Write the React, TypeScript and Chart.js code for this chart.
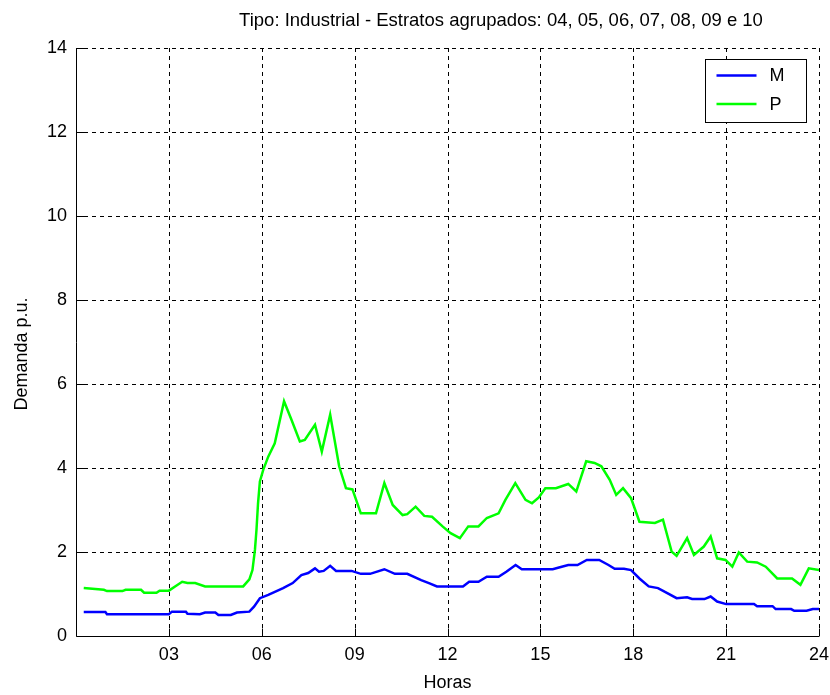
import { useEffect, useRef } from "react";
import { Chart, registerables } from "chart.js";

Chart.register(...registerables);

const chartTitle = "Tipo: Industrial - Estratos agrupados: 04, 05, 06, 07, 08, 09 e 10";
const xAxisTitle = "Horas";
const yAxisTitle = "Demanda p.u.";
const xTicks = [3, 6, 9, 12, 15, 18, 21, 24];
const xTickLabels = ["03", "06", "09", "12", "15", "18", "21", "24"];
const yTicks = [0, 2, 4, 6, 8, 10, 12, 14];
const seriesNames = ["M", "P"];
const seriesColors = ["#0000ff", "#00ff00"];

const hoursM = [
  0.25, 0.95, 1.0, 3.0, 3.1, 3.55, 3.6, 4.0, 4.17, 4.5, 4.6, 5.0, 5.2, 5.6, 5.75, 5.94,
  6.21, 6.69, 7.0, 7.28, 7.5, 7.72, 7.85, 8.0, 8.21, 8.4, 8.9, 9.2, 9.5, 9.96, 10.3,
  10.7, 11.15, 11.4, 11.66, 12.5, 12.7, 13.0, 13.27, 13.65, 13.9, 14.2, 14.4, 15.4,
  15.6, 15.9, 16.2, 16.5, 16.9, 17.2, 17.4, 17.7, 17.93, 18.2, 18.5, 18.8, 19.1, 19.4,
  19.74, 19.9, 20.3, 20.5, 20.71, 21.0, 21.9, 22.0, 22.5, 22.6, 23.1, 23.2, 23.6, 23.8, 24.0,
];
const valuesM = [
  0.57, 0.57, 0.52, 0.52, 0.58, 0.58, 0.53, 0.52, 0.56, 0.56, 0.5, 0.5, 0.56, 0.58, 0.7, 0.9,
  0.98, 1.14, 1.26, 1.45, 1.5, 1.61, 1.53, 1.55, 1.67, 1.55, 1.55, 1.48, 1.48, 1.59, 1.48,
  1.48, 1.33, 1.26, 1.18, 1.18, 1.29, 1.29, 1.41, 1.41, 1.53, 1.69, 1.59, 1.59,
  1.63, 1.69, 1.69, 1.81, 1.81, 1.69, 1.6, 1.6, 1.57, 1.37, 1.18, 1.14, 1.02, 0.9,
  0.92, 0.88, 0.88, 0.94, 0.82, 0.76, 0.76, 0.71, 0.71, 0.64, 0.64, 0.6, 0.6, 0.64, 0.64,
];

const hoursP = [
  0.25, 0.9, 1.0, 1.5, 1.6, 2.1, 2.2, 2.6, 2.7, 3.0, 3.2, 3.43, 3.6, 3.85, 4.17, 5.4,
  5.6, 5.7, 5.78, 5.83, 5.88, 5.94, 6.05, 6.21, 6.42, 6.72, 6.96, 7.23, 7.39, 7.72, 7.94,
  8.21, 8.5, 8.72, 8.93, 9.2, 9.69, 9.96, 10.23, 10.55, 10.7, 10.97, 11.25, 11.5, 11.84,
  12.1, 12.4, 12.67, 13.0, 13.27, 13.65, 13.87, 14.19, 14.52, 14.73, 14.95, 15.16, 15.5,
  15.9, 16.16, 16.48, 16.75, 16.97, 17.24, 17.45, 17.67, 17.93, 18.2, 18.7, 18.96, 19.24,
  19.4, 19.74, 19.96, 20.28, 20.5, 20.71, 20.98, 21.2, 21.41, 21.68, 22.0, 22.28, 22.65,
  23.13, 23.4, 23.67, 24.0,
];
const valuesP = [
  1.14, 1.1, 1.07, 1.07, 1.1, 1.1, 1.03, 1.03, 1.08, 1.08, 1.18, 1.29, 1.26, 1.26, 1.18, 1.18,
  1.35, 1.57, 2.05, 2.53, 3.16, 3.68, 3.96, 4.27, 4.59, 5.59, 5.15, 4.63, 4.67, 5.03, 4.39,
  5.27, 4.04, 3.52, 3.49, 2.92, 2.92, 3.64, 3.12, 2.88, 2.9, 3.08, 2.86, 2.84, 2.61,
  2.45, 2.33, 2.61, 2.61, 2.81, 2.92, 3.24, 3.64, 3.24, 3.16, 3.3, 3.52, 3.52,
  3.62, 3.44, 4.16, 4.12, 4.04, 3.72, 3.36, 3.52, 3.28, 2.72, 2.69, 2.77, 2.01,
  1.91, 2.33, 1.93, 2.13, 2.37, 1.85, 1.81, 1.65, 1.99, 1.77, 1.75, 1.65, 1.37,
  1.37, 1.22, 1.61, 1.57,
];

const FONT = "'Liberation Sans', Arial, Helvetica, sans-serif";

const decorPlugin = {
  id: "matlabDecor",
  beforeDatasetsDraw(chart: any) {
    const { ctx, chartArea } = chart;
    const xs = chart.scales.x;
    const ys = chart.scales.y;
    const { left, right, top, bottom } = chartArea;
    ctx.save();
    ctx.strokeStyle = "#000";
    ctx.lineWidth = 1;
    ctx.setLineDash([4, 4]);
    for (const t of xTicks) {
      const px = Math.round(xs.getPixelForValue(t)) + 0.5;
      ctx.beginPath();
      ctx.moveTo(px, bottom);
      ctx.lineTo(px, top);
      ctx.stroke();
    }
    for (const t of yTicks) {
      if (t === 0) continue;
      const py = Math.round(ys.getPixelForValue(t)) + 0.5;
      ctx.beginPath();
      ctx.moveTo(left, py);
      ctx.lineTo(right, py);
      ctx.stroke();
    }
    ctx.setLineDash([]);
    const lx = Math.round(left) + 0.5;
    const by = Math.round(bottom) + 0.5;
    ctx.beginPath();
    ctx.moveTo(lx, top);
    ctx.lineTo(lx, by);
    ctx.lineTo(right, by);
    ctx.stroke();
    for (const t of xTicks) {
      const px = Math.round(xs.getPixelForValue(t)) + 0.5;
      ctx.beginPath();
      ctx.moveTo(px, by);
      ctx.lineTo(px, by - 8);
      ctx.stroke();
    }
    for (const t of yTicks) {
      const py = Math.round(ys.getPixelForValue(t)) + 0.5;
      ctx.beginPath();
      ctx.moveTo(lx, py);
      ctx.lineTo(lx + 8, py);
      ctx.stroke();
    }
    ctx.restore();
  },
  afterDatasetsDraw(chart: any) {
    const { ctx, chartArea } = chart;
    const { left, right, top, bottom } = chartArea;
    ctx.save();
    const bx = right - 113.5;
    const bw = 101;
    const byTop = top + 11.5;
    const bh = 63;
    ctx.fillStyle = "#fff";
    ctx.fillRect(bx, byTop, bw, bh);
    ctx.strokeStyle = "#000";
    ctx.lineWidth = 1;
    ctx.strokeRect(bx, byTop, bw, bh);
    seriesNames.forEach((name, i) => {
      const cy = byTop + 16 + i * 28.5;
      ctx.strokeStyle = seriesColors[i];
      ctx.lineWidth = 2.5;
      ctx.beginPath();
      ctx.moveTo(bx + 11, cy);
      ctx.lineTo(bx + 51, cy);
      ctx.stroke();
      ctx.fillStyle = "#000";
      ctx.font = `18px ${FONT}`;
      ctx.textAlign = "left";
      ctx.textBaseline = "middle";
      ctx.fillText(name, bx + 64, cy + 1);
    });
    ctx.fillStyle = "#000";
    ctx.textAlign = "center";
    ctx.textBaseline = "middle";
    ctx.font = `18.5px ${FONT}`;
    ctx.fillText(chartTitle, 501, 21);
    ctx.font = `18px ${FONT}`;
    ctx.fillText(xAxisTitle, (left + right) / 2, 683);
    ctx.translate(22, 354);
    ctx.rotate(-Math.PI / 2);
    ctx.fillText(yAxisTitle, 0, 0);
    ctx.restore();
  },
};

export default function App() {
  const canvasRef = useRef<HTMLCanvasElement | null>(null);

  useEffect(() => {
    if (!canvasRef.current) return;
    const chart = new Chart(canvasRef.current, {
      type: "line",
      data: {
        datasets: [
          {
            label: seriesNames[0],
            data: hoursM.map((h, i) => ({ x: h, y: valuesM[i] })),
            borderColor: seriesColors[0],
            backgroundColor: seriesColors[0],
            borderWidth: 2.5,
            pointRadius: 0,
            tension: 0,
          },
          {
            label: seriesNames[1],
            data: hoursP.map((h, i) => ({ x: h, y: valuesP[i] })),
            borderColor: seriesColors[1],
            backgroundColor: seriesColors[1],
            borderWidth: 2.5,
            pointRadius: 0,
            tension: 0,
          },
        ],
      },
      options: {
        animation: false,
        responsive: false,
        devicePixelRatio: 1,
        layout: { padding: { top: 48, right: 11, bottom: 0, left: 0 } },
        plugins: {
          legend: { display: false },
          title: { display: false },
          tooltip: { enabled: false },
        },
        scales: {
          x: {
            type: "linear",
            min: 0,
            max: 24,
            grid: { display: false },
            border: { display: false },
            afterFit: (s: any) => {
              s.height = 59;
            },
            afterBuildTicks: (s: any) => {
              s.ticks = xTicks.map((v) => ({ value: v }));
            },
            ticks: {
              autoSkip: false,
              maxRotation: 0,
              padding: 0,
              color: "#000",
              font: { family: FONT, size: 18 },
              callback: (v: any) => xTickLabels[xTicks.indexOf(Number(v))] ?? "",
            },
          },
          y: {
            min: 0,
            max: 14,
            grid: { display: false },
            border: { display: false },
            afterFit: (s: any) => {
              s.width = 76;
            },
            afterBuildTicks: (s: any) => {
              s.ticks = yTicks.map((v) => ({ value: v }));
            },
            ticks: {
              padding: 1,
              color: "#000",
              font: { family: FONT, size: 18 },
              callback: (v: any) => String(v),
            },
          },
        },
      },
      plugins: [decorPlugin],
    });
    return () => chart.destroy();
  }, []);

  return (
    <div style={{ position: "fixed", left: 0, top: 0, width: 830, height: 695, background: "#fff" }}>
      <canvas ref={canvasRef} width={830} height={695} />
    </div>
  );
}
